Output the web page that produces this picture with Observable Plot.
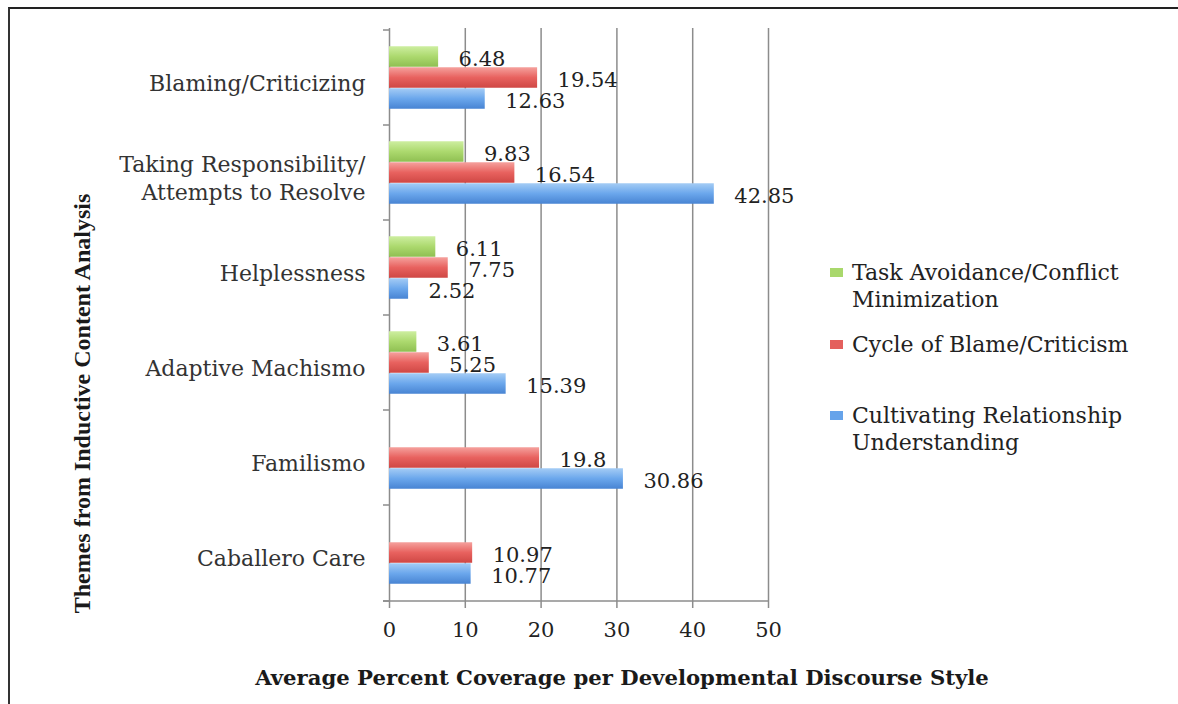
<!DOCTYPE html>
<html><head><meta charset="utf-8">
<script src="https://cdn.jsdelivr.net/npm/d3@7"></script>
<script src="https://cdn.jsdelivr.net/npm/@observablehq/plot@0.6"></script>
<style>
body{margin:0;background:#fff;}
#wrap{position:relative;width:1178px;height:704px;overflow:hidden;background:#fff;}
#chart{position:absolute;left:0;top:0;}
#frame{position:absolute;left:8px;top:7px;right:-10px;bottom:-10px;border-top:2px solid #222;border-left:2px solid #333;pointer-events:none;}
#legend{position:absolute;left:0;top:0;font-family:"DejaVu Serif";font-size:22px;color:#222;}
.item{position:absolute;left:830px;padding-left:22px;line-height:27px;white-space:nowrap;}
.sw{position:absolute;left:0;top:9px;width:13px;height:9px;}
</style></head><body>
<div id="wrap"><div id="chart"></div><div id="legend"></div><div id="frame"></div></div>
<script>
// ---- data ----
const categories = ["Blaming/Criticizing", "Taking Responsibility/\nAttempts to Resolve", "Helplessness", "Adaptive Machismo", "Familismo", "Caballero Care"];
const seriesNames = ["Task Avoidance/Conflict\nMinimization", "Cycle of Blame/Criticism", "Cultivating Relationship\nUnderstanding"];
const taskAvoidance = [6.48, 9.83, 6.11, 3.61, null, null];
const cycleOfBlame = [19.54, 16.54, 7.75, 5.25, 19.8, 10.97];
const cultivating = [12.63, 42.85, 2.52, 15.39, 30.86, 10.77];
const xTicks = [0, 10, 20, 30, 40, 50];
const xTitle = "Average Percent Coverage per Developmental Discourse Style";
const yTitle = "Themes from Inductive Content Analysis";

// ---- layout / style ----
const W = 1178, H = 704, mL = 389, mR = 410, mT = 28, mB = 103;
const bw = (H - mT - mB) / categories.length;
const barH = 21;
const pad = (bw - 3 * barH) / 2;
const serif = "DejaVu Serif";
const grads = [
  ["#cdeea0", "#acd96e", "#8fbf52"],
  ["#f5a19d", "#e8625f", "#cf4744"],
  ["#a4ccf5", "#6ba7ec", "#4884d3"]
];
const swatch = ["#a9d86c", "#e4605d", "#66a3ea"];
const legendTops = [259, 331, 402];

const valuesBySeries = [taskAvoidance, cycleOfBlame, cultivating];
const rows = valuesBySeries.flatMap((vals, k) =>
  categories.map((c, i) => ({category: c, value: vals[i], k})).filter(d => d.value != null));

function defs() {
  const d = d3.create("svg:defs");
  grads.forEach((g, k) => {
    const lg = d.append("linearGradient").attr("id", "grad" + k)
      .attr("x1", 0).attr("y1", 0).attr("x2", 0).attr("y2", 1);
    lg.append("stop").attr("offset", "0%").attr("stop-color", g[0]);
    lg.append("stop").attr("offset", "50%").attr("stop-color", g[1]);
    lg.append("stop").attr("offset", "100%").attr("stop-color", g[2]);
  });
  return d.node();
}

function axisLines(index, scales, values, dims) {
  const g = d3.create("svg:g").attr("stroke", "#8c8c8c").attr("stroke-width", 1.5);
  const x0 = scales.x(0), x1 = scales.x(xTicks[xTicks.length - 1]);
  const yb = dims.height - dims.marginBottom;
  g.append("line").attr("x1", x0 - 6).attr("x2", x1).attr("y1", yb).attr("y2", yb);
  const tops = categories.map(c => scales.y(c)).concat([yb]);
  for (const t of tops) g.append("line").attr("x1", x0 - 6).attr("x2", x0).attr("y1", t).attr("y2", t);
  return g.node();
}

const chart = Plot.plot({
  width: W, height: H,
  marginLeft: mL, marginRight: mR, marginTop: mT, marginBottom: mB,
  style: {background: "transparent", color: "#222"},
  x: {domain: [0, 50]},
  y: {domain: categories, padding: 0},
  marks: [
    defs,
    Plot.ruleX(xTicks, {stroke: "#8c8c8c", strokeWidth: 1.5}),
    axisLines,
    ...valuesBySeries.map((_, k) => Plot.barX(rows.filter(d => d.k === k), {
      x: "value", y: "category", fill: `url(#grad${k})`,
      insetTop: pad + k * barH, insetBottom: bw - pad - (k + 1) * barH
    })),
    ...valuesBySeries.map((_, k) => Plot.text(rows.filter(d => d.k === k), {
      x: "value", y: "category", text: d => String(d.value),
      dx: 20, dy: (k - 1) * barH + 2, textAnchor: "start",
      fontSize: 21, fontFamily: serif, fill: "#222"
    })),
    Plot.axisY({tickSize: 0, tickPadding: 24, fontSize: 22, fontFamily: serif, fill: "#333", lineHeight: 1.3, dy: 4, label: null}),
    Plot.axisX({ticks: xTicks, tickSize: 7, tickPadding: 14, stroke: "#8c8c8c", strokeWidth: 1.5, fill: "#222", fontSize: 21, fontFamily: serif, label: null}),
    Plot.text([xTitle], {text: d => d, frameAnchor: "bottom", textAnchor: "middle", lineAnchor: "middle", dx: 43, dy: 77, fontWeight: "bold", fontSize: 21.2, fontFamily: serif, fill: "#1a1a1a"}),
    Plot.text([yTitle], {text: d => d, frameAnchor: "left", textAnchor: "middle", lineAnchor: "middle", rotate: -90, dx: 82 - mL, dy: 403 - (mT + (H - mT - mB) / 2), fontWeight: "bold", fontSize: 24, fontFamily: "Liberation Serif", fill: "#1a1a1a"})
  ]
});
document.getElementById("chart").appendChild(chart);

// ---- legend ----
const legend = document.getElementById("legend");
seriesNames.forEach((name, k) => {
  const it = document.createElement("div");
  it.className = "item";
  it.style.top = legendTops[k] + "px";
  const sw = document.createElement("span");
  sw.className = "sw";
  sw.style.background = swatch[k];
  it.appendChild(sw);
  name.split("\n").forEach((line, j) => {
    if (j) it.appendChild(document.createElement("br"));
    it.appendChild(document.createTextNode(line));
  });
  legend.appendChild(it);
});
</script>
</body></html>
